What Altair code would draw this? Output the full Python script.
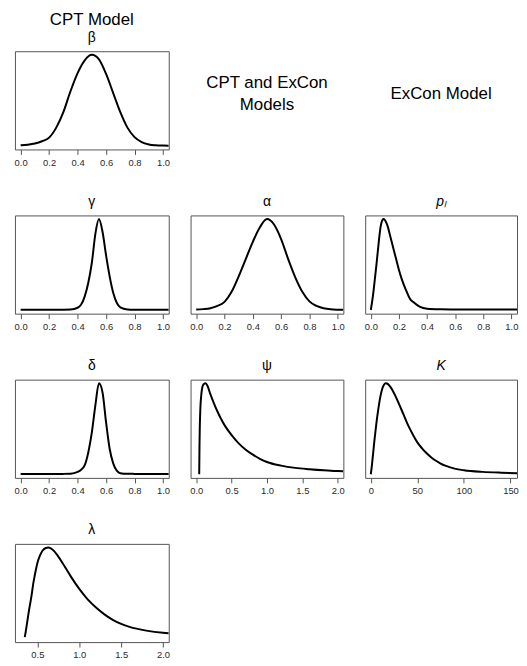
import altair as alt
import pandas as pd

# ---- data (density normalised to peak = 1) ----
beta_x = [0.0, 0.05, 0.1, 0.15, 0.2, 0.25, 0.3, 0.35, 0.4, 0.45, 0.5, 0.55, 0.6, 0.65, 0.7, 0.75, 0.8, 0.85, 0.9, 0.95, 1.0, 1.04]
beta_y = [0.005, 0.012, 0.025, 0.05, 0.09, 0.2, 0.37, 0.6, 0.8, 0.94, 1.0, 0.95, 0.79, 0.58, 0.37, 0.2, 0.095, 0.04, 0.015, 0.006, 0.003, 0.002]

gamma_x = [0.0, 0.1, 0.2, 0.3, 0.35, 0.4, 0.425, 0.45, 0.475, 0.5, 0.525, 0.55, 0.575, 0.6, 0.625, 0.65, 0.675, 0.7, 0.75, 0.8, 0.9, 1.0, 1.04]
gamma_y = [0.003, 0.003, 0.003, 0.004, 0.006, 0.025, 0.06, 0.15, 0.3, 0.52, 0.84, 1.0, 0.86, 0.6, 0.37, 0.19, 0.08, 0.03, 0.007, 0.004, 0.003, 0.003, 0.003]

delta_x = [0.0, 0.1, 0.2, 0.3, 0.35, 0.4, 0.425, 0.45, 0.475, 0.5, 0.525, 0.55, 0.575, 0.6, 0.625, 0.65, 0.675, 0.7, 0.75, 0.8, 0.9, 1.0, 1.04]
delta_y = [0.003, 0.003, 0.003, 0.004, 0.006, 0.025, 0.05, 0.1, 0.24, 0.46, 0.76, 1.0, 0.9, 0.57, 0.28, 0.12, 0.04, 0.012, 0.005, 0.004, 0.003, 0.003, 0.003]

lambda_x = [0.349, 0.36, 0.37, 0.385, 0.4, 0.415, 0.43, 0.45, 0.47, 0.5, 0.53, 0.56, 0.6, 0.63, 0.66, 0.7, 0.75, 0.8, 0.85, 0.9, 1.0, 1.1, 1.2, 1.3, 1.4, 1.5, 1.6, 1.8, 2.0, 2.068]
lambda_y = [0.014, 0.07, 0.13, 0.22, 0.31, 0.39, 0.47, 0.6, 0.7, 0.83, 0.91, 0.965, 0.995, 1.0, 0.99, 0.96, 0.9, 0.83, 0.755, 0.68, 0.545, 0.43, 0.34, 0.265, 0.205, 0.16, 0.127, 0.086, 0.062, 0.057]

alpha_x = [0.0, 0.05, 0.1, 0.15, 0.2, 0.25, 0.3, 0.35, 0.4, 0.45, 0.5, 0.55, 0.6, 0.65, 0.7, 0.75, 0.8, 0.85, 0.9, 0.95, 1.0, 1.04]
alpha_y = [0.005, 0.01, 0.02, 0.045, 0.09, 0.2, 0.37, 0.56, 0.75, 0.91, 1.0, 0.94, 0.78, 0.56, 0.36, 0.2, 0.095, 0.045, 0.02, 0.008, 0.004, 0.003]

psi_x = [0.042, 0.046, 0.05, 0.055, 0.06, 0.07, 0.08, 0.1, 0.13, 0.16, 0.2, 0.25, 0.3, 0.35, 0.4, 0.5, 0.6, 0.7, 0.8, 0.9, 1.0, 1.2, 1.4, 1.6, 1.8, 2.0, 2.08]
psi_y = [0.0, 0.3, 0.5, 0.65, 0.75, 0.86, 0.93, 0.985, 1.0, 0.97, 0.88, 0.78, 0.69, 0.61, 0.54, 0.43, 0.34, 0.27, 0.215, 0.17, 0.135, 0.095, 0.07, 0.055, 0.043, 0.035, 0.032]

pl_x = [0.0, 0.01, 0.02, 0.03, 0.04, 0.05, 0.06, 0.07, 0.08, 0.09, 0.1, 0.11, 0.12, 0.14, 0.16, 0.18, 0.2, 0.22, 0.25, 0.28, 0.3, 0.35, 0.4, 0.5, 0.6, 0.8, 1.0, 1.04]
pl_y = [0.0, 0.1, 0.22, 0.36, 0.5, 0.65, 0.8, 0.92, 0.98, 1.0, 0.99, 0.96, 0.92, 0.8, 0.68, 0.56, 0.44, 0.34, 0.22, 0.12, 0.09, 0.035, 0.015, 0.008, 0.006, 0.005, 0.005, 0.005]

k_x = [0, 1, 2, 3, 4, 5, 6, 8, 10, 12, 14, 16, 18, 20, 23, 26, 30, 35, 40, 45, 50, 55, 60, 65, 70, 75, 80, 90, 100, 120, 140, 157]
k_y = [0.0, 0.08, 0.18, 0.28, 0.38, 0.47, 0.56, 0.71, 0.84, 0.93, 0.98, 1.0, 0.995, 0.975, 0.93, 0.87, 0.78, 0.66, 0.54, 0.44, 0.35, 0.285, 0.23, 0.185, 0.148, 0.118, 0.094, 0.062, 0.044, 0.026, 0.017, 0.012]

ticks_unit = [0.0, 0.2, 0.4, 0.6, 0.8, 1.0]
ticks_psi = [0.0, 0.5, 1.0, 1.5, 2.0]
ticks_k = [0, 50, 100, 150]
ticks_lambda = [0.5, 1.0, 1.5, 2.0]

header_left = "CPT Model"
header_mid = "CPT and ExCon\nModels"
header_right = "ExCon Model"

FONT = "Liberation Sans"
PANEL_H = 99
COL_W = [155, 154, 153]


def text_layer(label, width, ypos, size):
    return alt.Chart(pd.DataFrame({"label": [label]})).mark_text(
        fontSize=size, font=FONT, color="black", align="center", baseline="middle"
    ).encode(text="label:N", x=alt.value(width / 2), y=alt.value(ypos))


def panel(title, xs, ys, domain, ticks, fmt, width, style="normal", header=None):
    df = pd.DataFrame({"x": xs, "y": ys})
    line = alt.Chart(df).mark_line(
        color="black", strokeWidth=2, interpolate="monotone", clip=True
    ).encode(
        x=alt.X("x:Q",
                scale=alt.Scale(domain=domain, nice=False, zero=False),
                axis=alt.Axis(values=ticks, format=fmt, title=None, grid=False, domain=False,
                              tickSize=5, tickColor="#555", labelColor="#2a2a2a",
                              labelFontSize=9.5, labelPadding=3, labelFlush=False,
                              labelFont=FONT)),
        y=alt.Y("y:Q", scale=alt.Scale(domain=[-0.04, 1.04], nice=False, zero=False), axis=None),
    )
    if header is not None:
        ch = alt.layer(line, text_layer(header, width, -31, 17), text_layer(title, width, -13, 14))
    else:
        t = alt.TitleParams(title, fontSize=14, fontStyle=style, font=FONT,
                            fontWeight="normal", color="black", offset=7, anchor="middle")
        ch = line.properties(title=t)
    return ch.properties(width=width, height=PANEL_H,
                         view=alt.ViewBackground(stroke="#555", strokeWidth=1))


def text_panel(label, width, ypos):
    df = pd.DataFrame({"label": [label]})
    return alt.Chart(df).mark_text(
        fontSize=17, font=FONT, color="black", lineBreak="\n", lineHeight=22,
        align="center", baseline="middle"
    ).encode(
        text="label:N",
        x=alt.value(width / 2),
        y=alt.value(ypos),
    ).properties(width=width, height=PANEL_H,
                 view=alt.ViewBackground(stroke="transparent"))


unit_dom = [-0.04, 1.04]
charts = [
    panel("β", beta_x, beta_y, unit_dom, ticks_unit, ".1f", COL_W[0], header=header_left),
    text_panel(header_mid, COL_W[1], 32),
    text_panel(header_right, COL_W[2], 43),
    panel("γ", gamma_x, gamma_y, unit_dom, ticks_unit, ".1f", COL_W[0]),
    panel("α", alpha_x, alpha_y, unit_dom, ticks_unit, ".1f", COL_W[1]),
    panel("pₗ", pl_x, pl_y, unit_dom, ticks_unit, ".1f", COL_W[2], style="italic"),
    panel("δ", delta_x, delta_y, unit_dom, ticks_unit, ".1f", COL_W[0]),
    panel("ψ", psi_x, psi_y, [-0.08, 2.08], ticks_psi, ".1f", COL_W[1]),
    panel("K", k_x, k_y, [-6, 157], ticks_k, "d", COL_W[2], style="italic"),
    panel("λ", lambda_x, lambda_y, [0.232, 2.068], ticks_lambda, ".1f", COL_W[0]),
]

chart = alt.concat(*charts, columns=3, spacing={"row": 66.5, "column": 22}, bounds="flush").properties(
    padding={"left": 5, "top": 0, "right": 0, "bottom": 0}
).configure(background="white")

chart.save("out.html", embed_options={"renderer": "svg", "actions": False})
